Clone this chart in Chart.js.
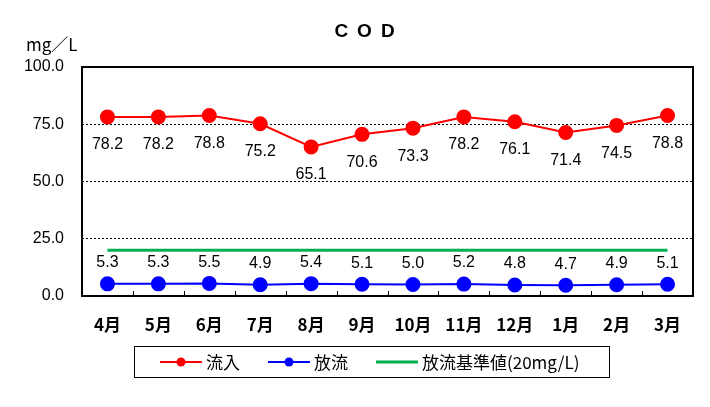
<!DOCTYPE html>
<html>
<head>
<meta charset="utf-8">
<script src="https://cdn.jsdelivr.net/npm/chart.js@4"></script>
<style>
  body { margin: 0; background: #fff; }
  #wrap { width: 710px; height: 407px; }
</style>
</head>
<body>
<div id="wrap"><canvas id="mainChart" width="710" height="407"></canvas></div>
<script>
const months = ['4月', '5月', '6月', '7月', '8月', '9月', '10月', '11月', '12月', '1月', '2月', '3月'];
const inflow = [78.2, 78.2, 78.8, 75.2, 65.1, 70.6, 73.3, 78.2, 76.1, 71.4, 74.5, 78.8];
const outflow = [5.3, 5.3, 5.5, 4.9, 5.4, 5.1, 5.0, 5.2, 4.8, 4.7, 4.9, 5.1];
const standard = [20, 20, 20, 20, 20, 20, 20, 20, 20, 20, 20, 20];
const legendLabels = ['流入', '放流', '放流基準値(20mg/L)'];

const JP = '"Noto Sans CJK JP", "Liberation Sans", sans-serif';
const NUM = '"Liberation Sans", Arial, sans-serif';

// labels, frame, tick marks, title and legend box
const decor = {
  id: 'decor',
  afterDatasetsDraw(chart) {
    const { ctx, chartArea: a } = chart;
    ctx.save();

    // value labels
    ctx.font = '16px ' + NUM;
    ctx.fillStyle = '#000';
    ctx.textAlign = 'center';
    ctx.textBaseline = 'middle';
    chart.getDatasetMeta(0).data.forEach((p, i) => {
      ctx.fillText(inflow[i].toFixed(1), p.x, p.y + 28);
    });
    chart.getDatasetMeta(1).data.forEach((p, i) => {
      ctx.fillText(outflow[i].toFixed(1), p.x, p.y - 21);
    });

    // plot frame
    ctx.strokeStyle = '#000';
    ctx.lineWidth = 2;
    ctx.strokeRect(a.left, a.top, a.right - a.left, a.bottom - a.top);

    // inward tick marks between categories
    ctx.lineWidth = 1;
    const step = (a.right - a.left) / months.length;
    for (let i = 1; i < months.length; i++) {
      const x = Math.round(a.left + step * i) + 0.5;
      ctx.beginPath();
      ctx.moveTo(x, a.bottom);
      ctx.lineTo(x, a.bottom - 5);
      ctx.stroke();
    }

    // title and unit
    ctx.font = 'bold 19px ' + NUM;
    ctx.textAlign = 'center';
    ctx.letterSpacing = '9px';
    ctx.fillText('COD', 369, 32);
    ctx.letterSpacing = '0px';
    ctx.font = '17px ' + JP;
    ctx.textAlign = 'left';
    ctx.fillText('mg／L', 26, 45);

    // legend box
    ctx.strokeRect(134.5, 346.5, 475, 31);
    const colors = ['#ff0000', '#0000ff', '#00b050'];
    const starts = [160, 268, 376];
    ctx.font = '17px ' + JP;
    ctx.textBaseline = 'middle';
    legendLabels.forEach((t, i) => {
      const x = starts[i], y = 362;
      ctx.strokeStyle = colors[i];
      ctx.lineWidth = i === 2 ? 3 : 2;
      ctx.beginPath();
      ctx.moveTo(x, y);
      ctx.lineTo(x + 42, y);
      ctx.stroke();
      if (i < 2) {
        ctx.fillStyle = colors[i];
        ctx.beginPath();
        ctx.arc(x + 21, y, 4.5, 0, Math.PI * 2);
        ctx.fill();
      }
      ctx.fillStyle = '#000';
      ctx.fillText(t, x + 46, y + 1);
    });
    ctx.restore();
  }
};

new Chart(document.getElementById('mainChart'), {
  type: 'line',
  data: {
    labels: months,
    datasets: [
      {
        label: legendLabels[0], data: inflow,
        borderColor: '#ff0000', backgroundColor: '#ff0000',
        borderWidth: 2, pointRadius: 6.5, pointHoverRadius: 6.5, tension: 0
      },
      {
        label: legendLabels[1], data: outflow,
        borderColor: '#0000ff', backgroundColor: '#0000ff',
        borderWidth: 2, pointRadius: 6.5, pointHoverRadius: 6.5, tension: 0
      },
      {
        label: legendLabels[2], data: standard,
        borderColor: '#00b050', backgroundColor: '#00b050',
        borderWidth: 3, pointRadius: 0, tension: 0
      }
    ]
  },
  options: {
    responsive: false,
    animation: false,
    layout: { padding: { top: 67, right: 17, bottom: 0, left: 0 } },
    plugins: {
      legend: { display: false },
      title: { display: false },
      tooltip: { enabled: false }
    },
    scales: {
      x: {
        offset: true,
        grid: { display: false, drawTicks: false },
        border: { display: false },
        ticks: { color: '#000', padding: 18, font: { family: JP, size: 17, weight: 'bold' }, maxRotation: 0 },
        afterFit: (s) => { s.height = 111; }
      },
      y: {
        min: 0, max: 100,
        grid: { color: '#000', lineWidth: 1, drawTicks: false },
        border: { display: false, dash: [2, 2] },
        ticks: {
          stepSize: 25, color: '#000', padding: 18,
          font: { family: NUM, size: 16 },
          callback: (v) => v.toFixed(1)
        },
        afterFit: (s) => { s.width = 82; }
      }
    }
  },
  plugins: [decor]
});
</script>
</body>
</html>
